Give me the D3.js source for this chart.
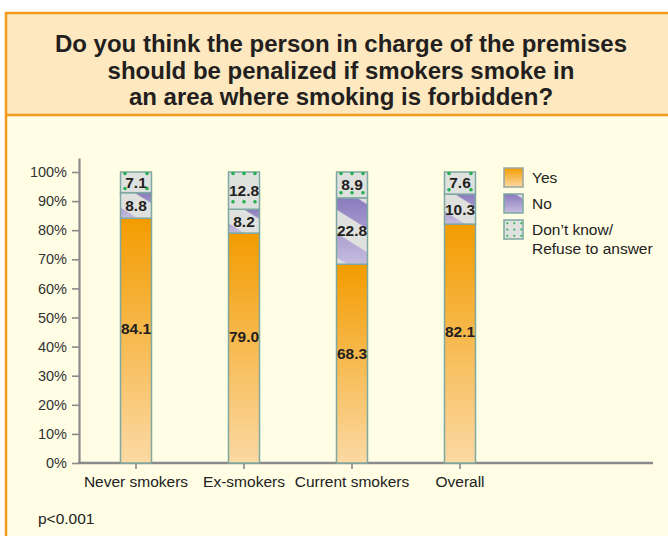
<!DOCTYPE html>
<html>
<head>
<meta charset="utf-8">
<script src="https://cdn.jsdelivr.net/npm/d3@7"></script>
<style>
  body { margin: 0; background: #ffffff; }
  svg { display: block; font-family: "Liberation Sans", Arial, Helvetica, sans-serif; }
</style>
</head>
<body>
<svg id="chart" width="668" height="536"></svg>
<script>
// ---- data ----
const categories = ["Never smokers", "Ex-smokers", "Current smokers", "Overall"];
const yesValues = [84.1, 79.0, 68.3, 82.1];
const noValues = [8.8, 8.2, 22.8, 10.3];
const dkValues = [7.1, 12.8, 8.9, 7.6];
const seriesKeys = ["yes", "no", "dk"];
const seriesLabels = [["Yes"], ["No"], ["Don\u2019t know/", "Refuse to answer"]];
const yTicks = [0, 10, 20, 30, 40, 50, 60, 70, 80, 90, 100];
const titleLines = [
  "Do you think the person in charge of the premises",
  "should be penalized if smokers smoke in",
  "an area where smoking is forbidden?"
];
const footnote = "p<0.001";

// ---- palette ----
const ORANGE_LINE = "#f29a1c";
const TITLE_FILL = "#fde8bf";
const PANEL_FILL = "#fffde4";
const BAR_STROKE = "#7ea8a1";
const SEG_GRAY = "#dfe1df";
const DOT_GREEN = "#22b14c";
const AXIS_GRAY = "#8a8a8a";
const TEXT_DARK = "#231f20";

const svg = d3.select("#chart");
const defs = svg.append("defs");

// gradients
const gYes = defs.append("linearGradient").attr("id", "gradYes")
  .attr("x1", 0).attr("y1", 0).attr("x2", 0).attr("y2", 1);
gYes.append("stop").attr("offset", "0%").attr("stop-color", "#f39c00");
gYes.append("stop").attr("offset", "100%").attr("stop-color", "#fbd9a4");

const gNo = defs.append("linearGradient").attr("id", "gradNo")
  .attr("x1", 0).attr("y1", 0).attr("x2", 0).attr("y2", 1);
gNo.append("stop").attr("offset", "0%").attr("stop-color", "#8a7bbd");
gNo.append("stop").attr("offset", "100%").attr("stop-color", "#c6bde0");

// diagonal light stripes laid over the purple "No" fill, centred on (cx, cy)
let stripeCount = 0;
function stripePattern(cx, cy) {
  const id = "stripe" + (stripeCount++);
  const period = 40.7, half = 10;
  const p = defs.append("pattern").attr("id", id)
    .attr("patternUnits", "userSpaceOnUse")
    .attr("width", 60).attr("height", period)
    .attr("patternTransform", `translate(${cx},${cy}) rotate(32)`);
  p.append("rect").attr("x", 0).attr("y", 0).attr("width", 60).attr("height", half).attr("fill", SEG_GRAY);
  p.append("rect").attr("x", 0).attr("y", period - half).attr("width", 60).attr("height", half).attr("fill", SEG_GRAY);
  return id;
}

// ---- frame ----
svg.append("rect").attr("x", 6).attr("y", 13).attr("width", 670).attr("height", 102).attr("fill", TITLE_FILL);
svg.append("rect").attr("x", 6).attr("y", 115).attr("width", 670).attr("height", 430).attr("fill", PANEL_FILL);
svg.append("line").attr("x1", 5).attr("x2", 668).attr("y1", 13).attr("y2", 13)
  .attr("stroke", ORANGE_LINE).attr("stroke-width", 2.5);
svg.append("line").attr("x1", 5).attr("x2", 668).attr("y1", 115).attr("y2", 115)
  .attr("stroke", ORANGE_LINE).attr("stroke-width", 2.5);
svg.append("line").attr("x1", 6).attr("x2", 6).attr("y1", 12).attr("y2", 536)
  .attr("stroke", ORANGE_LINE).attr("stroke-width", 2.5);

// title
svg.append("text")
  .attr("x", 341).attr("y", 52)
  .attr("text-anchor", "middle")
  .attr("font-size", 24).attr("font-weight", "bold").attr("fill", TEXT_DARK)
  .selectAll("tspan").data(titleLines).join("tspan")
  .attr("x", 341).attr("dy", (d, i) => i === 0 ? 0 : 26.5)
  .text(d => d);

// ---- scales ----
const x = d3.scaleBand().domain(categories).range([82, 514])
  .paddingInner(0.713).paddingOuter(0.3565);
const y = d3.scaleLinear().domain([0, 100]).range([463, 172]);
const axisTop = 158;
const yAxisScale = y.copy().domain([0, y.invert(axisTop)]).range([463, axisTop]);

// ---- axes ----
const axisX0 = 79;
const gy = svg.append("g").attr("transform", `translate(${axisX0},0)`)
  .call(d3.axisLeft(yAxisScale).tickValues(yTicks).tickFormat(d => d + "%")
    .tickSize(7).tickSizeOuter(0).tickPadding(5));
gy.select(".domain").attr("stroke", AXIS_GRAY).attr("stroke-width", 2.2);
gy.selectAll(".tick line").attr("stroke", AXIS_GRAY).attr("stroke-width", 1.6);
gy.selectAll(".tick text").attr("font-size", 14.5).attr("fill", "#333")
  .attr("font-family", "Liberation Sans, Arial, sans-serif");

const gx = svg.append("g").attr("transform", `translate(0,${y(0)})`)
  .call(d3.axisBottom(x).tickSize(6).tickSizeOuter(0).tickPadding(6.5));
gx.select(".domain").remove();
gx.selectAll(".tick line").attr("stroke", AXIS_GRAY).attr("stroke-width", 1.6);
gx.selectAll(".tick text").attr("font-size", 15.5).attr("fill", "#222")
  .attr("font-family", "Liberation Sans, Arial, sans-serif");
svg.append("line").attr("x1", axisX0 - 1).attr("x2", 653).attr("y1", y(0)).attr("y2", y(0))
  .attr("stroke", AXIS_GRAY).attr("stroke-width", 2.4);

// ---- stacked bars ----
const rows = categories.map((c, i) => ({ cat: c, yes: yesValues[i], no: noValues[i], dk: dkValues[i] }));
const stacked = d3.stack().keys(seriesKeys)(rows);
const bars = svg.append("g");
const labels = svg.append("g").attr("font-size", 15.5).attr("font-weight", "bold")
  .attr("fill", TEXT_DARK).attr("text-anchor", "middle");

stacked.forEach(layer => {
  layer.forEach(seg => {
    const cat = seg.data.cat;
    const x0 = x(cat), w = x.bandwidth();
    const top = y(seg[1]), bot = y(seg[0]), h = bot - top;
    const cx = x0 + w / 2, cy = top + h / 2;
    const value = seg.data[layer.key];
    if (layer.key === "yes") {
      bars.append("rect").attr("x", x0).attr("y", top).attr("width", w).attr("height", h)
        .attr("fill", "url(#gradYes)").attr("stroke", BAR_STROKE).attr("stroke-width", 1.5);
      labels.append("text").attr("x", cx).attr("y", top + h * 0.45).attr("dy", "0.35em")
        .text(value.toFixed(1));
    } else if (layer.key === "no") {
      bars.append("rect").attr("x", x0).attr("y", top).attr("width", w).attr("height", h)
        .attr("fill", "url(#gradNo)");
      const sid = stripePattern(cx, cy);
      bars.append("rect").attr("x", x0).attr("y", top).attr("width", w).attr("height", h)
        .attr("fill", `url(#${sid})`).attr("stroke", BAR_STROKE).attr("stroke-width", 1.5);
      labels.append("text").attr("x", cx).attr("y", cy).attr("dy", "0.35em").text(value.toFixed(1));
    } else {
      bars.append("rect").attr("x", x0).attr("y", top).attr("width", w).attr("height", h)
        .attr("fill", SEG_GRAY).attr("stroke", BAR_STROKE).attr("stroke-width", 1.5);
      // dotted fill: two rows of green dots, fewer columns on short segments
      const colXs = h > 24 ? [x0 + 4.5, cx, x0 + w - 4.5] : [x0 + 4.5, x0 + w - 4.5];
      const rowYs = [top + 1.5, top + h * 0.8];
      rowYs.forEach(ry => colXs.forEach(rx => {
        bars.append("circle").attr("cx", rx).attr("cy", ry).attr("r", 1.8).attr("fill", DOT_GREEN);
      }));
      labels.append("text").attr("x", cx).attr("y", cy).attr("dy", "0.35em").text(value.toFixed(1));
    }
  });
});

// ---- legend ----
const legend = svg.append("g").attr("transform", "translate(504,168)");
const sw = 19, rowStep = 26;
seriesKeys.forEach((key, i) => {
  const g = legend.append("g").attr("transform", `translate(0,${i * rowStep})`);
  if (key === "yes") {
    g.append("rect").attr("width", sw).attr("height", sw)
      .attr("fill", "url(#gradYes)").attr("stroke", "#9aa7a2").attr("stroke-width", 1.5);
  } else if (key === "no") {
    g.append("rect").attr("width", sw).attr("height", sw).attr("fill", "url(#gradNo)");
    const sid = stripePattern(504 + sw / 2 + 1.5, 168 + i * rowStep + sw / 2 + 3.5);
    g.append("rect").attr("width", sw).attr("height", sw)
      .attr("fill", `url(#${sid})`).attr("stroke", BAR_STROKE).attr("stroke-width", 1.5);
  } else {
    g.append("rect").attr("width", sw).attr("height", sw)
      .attr("fill", SEG_GRAY).attr("stroke", BAR_STROKE).attr("stroke-width", 1.5);
    [3.3, 9.5, 15.7].forEach(dy => [3.3, 10.3, 17.3].forEach(dx => {
      g.append("circle").attr("cx", dx).attr("cy", dy).attr("r", 1).attr("fill", DOT_GREEN);
    }));
  }
  const t = g.append("text").attr("x", 28).attr("y", 10).attr("dy", "0.35em")
    .attr("font-size", 15.5).attr("fill", "#222");
  seriesLabels[i].forEach((line, j) => {
    t.append("tspan").attr("x", 28).attr("dy", j === 0 ? "0.35em" : 19).text(line);
  });
});

// ---- footnote ----
svg.append("text").attr("x", 38).attr("y", 524)
  .attr("font-size", 15.5).attr("fill", "#222").text(footnote);
</script>
</body>
</html>
